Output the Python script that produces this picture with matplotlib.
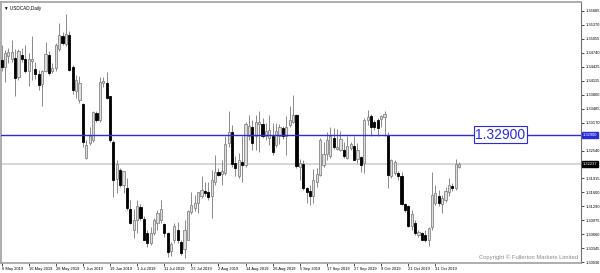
import matplotlib
matplotlib.use('Agg')
import numpy as np
import matplotlib.pyplot as plt
from matplotlib.transforms import blended_transform_factory

# USDCAD daily candles, 6 May 2019 .. 8 Nov 2019
opens = [1.3458, 1.3443, 1.3466, 1.3460, 1.3462, 1.3419, 1.3468, 1.3460, 1.3433, 1.3456,
         1.3437, 1.3427, 1.3404, 1.3433, 1.3470, 1.3432, 1.3439, 1.3483, 1.3511, 1.3494,
         1.3515, 1.3443, 1.3389, 1.3368, 1.3359, 1.3237, 1.3271, 1.3278, 1.3338, 1.3323,
         1.3406, 1.3407, 1.3376, 1.3274, 1.3190, 1.3211, 1.3177, 1.3169, 1.3123, 1.3076,
         1.3098, 1.3128, 1.3101, 1.3068, 1.3047, 1.3068, 1.3092, 1.3098, 1.3089, 1.3068,
         1.3029, 1.3052, 1.3076, 1.3049, 1.3032, 1.3054, 1.3115, 1.3124, 1.3137, 1.3152,
         1.3164, 1.3162, 1.3151, 1.3184, 1.3207, 1.3202, 1.3203, 1.3271, 1.3295, 1.3226,
         1.3196, 1.3229, 1.3222, 1.3286, 1.3308, 1.3286, 1.3314, 1.3314, 1.3286, 1.3282,
         1.3286, 1.3267, 1.3287, 1.3304, 1.3287, 1.3312, 1.3319, 1.3334, 1.3218, 1.3224,
         1.3169, 1.3163, 1.3151, 1.3184, 1.3199, 1.3221, 1.3246, 1.3241, 1.3282, 1.3258,
         1.3256, 1.3256, 1.3237, 1.3259, 1.3265, 1.3235, 1.3239, 1.3226, 1.3323, 1.3331,
         1.3319, 1.3322, 1.3325, 1.3330, 1.3289, 1.3196, 1.3203, 1.3203, 1.3198, 1.3134,
         1.3130, 1.3085, 1.3091, 1.3064, 1.3068, 1.3064, 1.3052, 1.3083, 1.3136, 1.3152,
         1.3134, 1.3143, 1.3160, 1.3175, 1.3169, 1.3218]
highs = [1.3492, 1.3481, 1.3484, 1.3502, 1.3482, 1.3482, 1.3484, 1.3492, 1.3473, 1.3511,
         1.3454, 1.3436, 1.3436, 1.3499, 1.3477, 1.3451, 1.3496, 1.3542, 1.3520, 1.3562,
         1.3522, 1.3447, 1.3424, 1.3421, 1.3361, 1.3278, 1.3307, 1.3342, 1.3342, 1.3419,
         1.3419, 1.3430, 1.3377, 1.3278, 1.3233, 1.3214, 1.3209, 1.3192, 1.3143, 1.3122,
         1.3143, 1.3134, 1.3106, 1.3076, 1.3083, 1.3102, 1.3121, 1.3142, 1.3091, 1.3070,
         1.3049, 1.3092, 1.3094, 1.3053, 1.3098, 1.3121, 1.3160, 1.3154, 1.3162, 1.3197,
         1.3184, 1.3184, 1.3211, 1.3244, 1.3214, 1.3233, 1.3286, 1.3342, 1.3312, 1.3241,
         1.3248, 1.3286, 1.3319, 1.3334, 1.3323, 1.3334, 1.3342, 1.3327, 1.3316, 1.3334,
         1.3316, 1.3316, 1.3314, 1.3310, 1.3331, 1.3355, 1.3379, 1.3337, 1.3235, 1.3233,
         1.3173, 1.3177, 1.3212, 1.3214, 1.3282, 1.3274, 1.3295, 1.3308, 1.3304, 1.3302,
         1.3297, 1.3274, 1.3286, 1.3274, 1.3286, 1.3272, 1.3241, 1.3327, 1.3346, 1.3337,
         1.3323, 1.3327, 1.3334, 1.3343, 1.3295, 1.3236, 1.3233, 1.3209, 1.3207, 1.3136,
         1.3132, 1.3121, 1.3098, 1.3076, 1.3072, 1.3076, 1.3083, 1.3205, 1.3177, 1.3166,
         1.3154, 1.3173, 1.3192, 1.3182, 1.3235, 1.3229]
lows = [1.3432, 1.3409, 1.3451, 1.3454, 1.3376, 1.3413, 1.3454, 1.3428, 1.3400, 1.3413,
        1.3415, 1.3391, 1.3355, 1.3430, 1.3424, 1.3428, 1.3434, 1.3479, 1.3492, 1.3490,
        1.3432, 1.3382, 1.3372, 1.3361, 1.3263, 1.3235, 1.3267, 1.3274, 1.3319, 1.3319,
        1.3398, 1.3370, 1.3274, 1.3149, 1.3158, 1.3173, 1.3158, 1.3121, 1.3089, 1.3057,
        1.3068, 1.3098, 1.3052, 1.3037, 1.3042, 1.3064, 1.3076, 1.3091, 1.3059, 1.3016,
        1.3017, 1.3046, 1.3046, 1.3019, 1.3012, 1.3053, 1.3112, 1.3119, 1.3113, 1.3147,
        1.3151, 1.3143, 1.3102, 1.3177, 1.3196, 1.3177, 1.3199, 1.3263, 1.3218, 1.3196,
        1.3192, 1.3184, 1.3218, 1.3278, 1.3256, 1.3256, 1.3252, 1.3282, 1.3278, 1.3267,
        1.3244, 1.3263, 1.3269, 1.3280, 1.3244, 1.3308, 1.3316, 1.3214, 1.3188, 1.3166,
        1.3137, 1.3132, 1.3136, 1.3173, 1.3196, 1.3218, 1.3233, 1.3237, 1.3257, 1.3256,
        1.3254, 1.3237, 1.3235, 1.3256, 1.3232, 1.3226, 1.3207, 1.3203, 1.3312, 1.3286,
        1.3301, 1.3286, 1.3308, 1.3286, 1.3169, 1.3192, 1.3199, 1.3188, 1.3132, 1.3117,
        1.3082, 1.3076, 1.3064, 1.3059, 1.3052, 1.3049, 1.3040, 1.3076, 1.3132, 1.3130,
        1.3113, 1.3139, 1.3152, 1.3164, 1.3166, 1.3214]
closes = [1.3443, 1.3473, 1.3475, 1.3475, 1.3417, 1.3479, 1.3460, 1.3434, 1.3460, 1.3461,
          1.3427, 1.3402, 1.3432, 1.3471, 1.3429, 1.3439, 1.3491, 1.3514, 1.3497, 1.3517,
          1.3436, 1.3391, 1.3412, 1.3406, 1.3274, 1.3267, 1.3286, 1.3340, 1.3323, 1.3409,
          1.3411, 1.3372, 1.3278, 1.3188, 1.3224, 1.3177, 1.3209, 1.3124, 1.3092, 1.3098,
          1.3130, 1.3102, 1.3054, 1.3046, 1.3068, 1.3097, 1.3113, 1.3122, 1.3068, 1.3027,
          1.3044, 1.3085, 1.3052, 1.3025, 1.3076, 1.3118, 1.3132, 1.3136, 1.3160, 1.3166,
          1.3158, 1.3149, 1.3187, 1.3207, 1.3199, 1.3209, 1.3269, 1.3295, 1.3224, 1.3214,
          1.3232, 1.3222, 1.3313, 1.3310, 1.3271, 1.3319, 1.3319, 1.3286, 1.3299, 1.3301,
          1.3252, 1.3299, 1.3307, 1.3286, 1.3308, 1.3322, 1.3333, 1.3220, 1.3226, 1.3169,
          1.3160, 1.3151, 1.3187, 1.3202, 1.3278, 1.3246, 1.3278, 1.3286, 1.3262, 1.3262,
          1.3280, 1.3241, 1.3265, 1.3268, 1.3233, 1.3256, 1.3222, 1.3323, 1.3329, 1.3308,
          1.3307, 1.3304, 1.3332, 1.3336, 1.3199, 1.3232, 1.3228, 1.3196, 1.3134, 1.3121,
          1.3085, 1.3112, 1.3068, 1.3070, 1.3054, 1.3053, 1.3079, 1.3154, 1.3158, 1.3136,
          1.3147, 1.3164, 1.3176, 1.3169, 1.3224, 1.32237]

date_labels = ['6 May 2019', '16 May 2019', '28 May 2019', '7 Jun 2019', '19 Jun 2019',
               '1 Jul 2019', '11 Jul 2019', '23 Jul 2019', '2 Aug 2019', '14 Aug 2019',
               '26 Aug 2019', '5 Sep 2019', '17 Sep 2019', '27 Sep 2019', '9 Oct 2019',
               '21 Oct 2019', '31 Oct 2019']
date_bars = [0, 8, 16, 24, 32, 40, 48, 56, 64, 72, 80, 88, 96, 104, 112, 120, 128]

price_ticks = [1.35685, 1.35370, 1.35055, 1.34740, 1.34425, 1.34115, 1.33800, 1.33485,
               1.33170, 1.32540, 1.31915, 1.31600, 1.31290, 1.30975, 1.30660, 1.30345,
               1.30030]
level = 1.32900
last_price = 1.32237

plt.rcParams['font.family'] = ['Liberation Sans', 'DejaVu Sans']

o = np.array(opens)
h = np.array(highs)
l = np.array(lows)
c = np.array(closes)
x = np.arange(len(o))
up = c >= o

fig = plt.figure(figsize=(6, 2.73), dpi=100)
ax = fig.add_axes([1 / 600, 10 / 273, 580 / 600, 261 / 273])

# wicks then bodies
ax.vlines(x, l, h, color='#8a8a8a', linewidth=0.7, zorder=2)
body_h = np.maximum(np.abs(c - o), 0.00003)
body_b = np.minimum(o, c)
ax.bar(x[up], body_h[up], bottom=body_b[up], width=0.64, color='#dedede',
       edgecolor='#858585', linewidth=0.6, zorder=3)
ax.bar(x[~up], body_h[~up], bottom=body_b[~up], width=0.64, color='black',
       edgecolor='black', linewidth=0.6, zorder=3)

ax.axhline(level, color='#2b2bd9', linewidth=1.0, zorder=4)
ax.axhline(last_price, color='#d0d0d0', linewidth=1.2, zorder=1)

ax.set_xlim(-0.15, 170.95)
ax.set_ylim(1.30014, 1.35881)

ax.yaxis.tick_right()
ax.set_yticks(price_ticks)
ax.set_yticklabels(['%.5f' % p for p in price_ticks])
ax.tick_params(axis='y', direction='out', length=2, width=0.5, pad=1.2,
               labelsize=2.9, colors='black')
ax.set_xticks(date_bars)
ax.set_xticklabels(date_labels)
ax.tick_params(axis='x', direction='out', length=2, width=0.5, pad=1,
               labelsize=2.9, colors='black')
for lab in ax.get_xticklabels():
    lab.set_horizontalalignment('left')

for side in ['top', 'left', 'bottom']:
    ax.spines[side].set_color('#a0a0a0')
    ax.spines[side].set_linewidth(1.2)
ax.spines['right'].set_color('#707070')
ax.spines['right'].set_linewidth(0.8)

# price labels on the axis
tr = blended_transform_factory(ax.transAxes, ax.transData)
ax.text(1.003, level, '%.5f' % level, transform=tr, fontsize=2.9, color='white',
        va='center', ha='left', clip_on=False,
        bbox=dict(boxstyle='square,pad=0.25', fc='#2b2bd9', ec='#2b2bd9'))
ax.text(1.003, last_price, '%.5f' % last_price, transform=tr, fontsize=2.9,
        color='white', va='center', ha='left', clip_on=False,
        bbox=dict(boxstyle='square,pad=0.25', fc='black', ec='black'))

# big level label
ax.text(147.2, level, '%.5f' % level, fontsize=10, color='#2b2bd9',
        va='center', ha='center', zorder=5,
        bbox=dict(boxstyle='square,pad=0.12', fc='white', ec='#2b2bd9', lw=0.8))

ax.text(0.006, 0.985, '\u25bc USDCAD,Daily', transform=ax.transAxes, fontsize=3.3,
        va='top', ha='left')
ax.text(0.995, 0.012, 'Copyright \u00a9 Fullerton Markets Limited', transform=ax.transAxes,
        fontsize=4.2, color='#8a8a8a', va='bottom', ha='right')

plt.savefig('out.png', dpi=100)
